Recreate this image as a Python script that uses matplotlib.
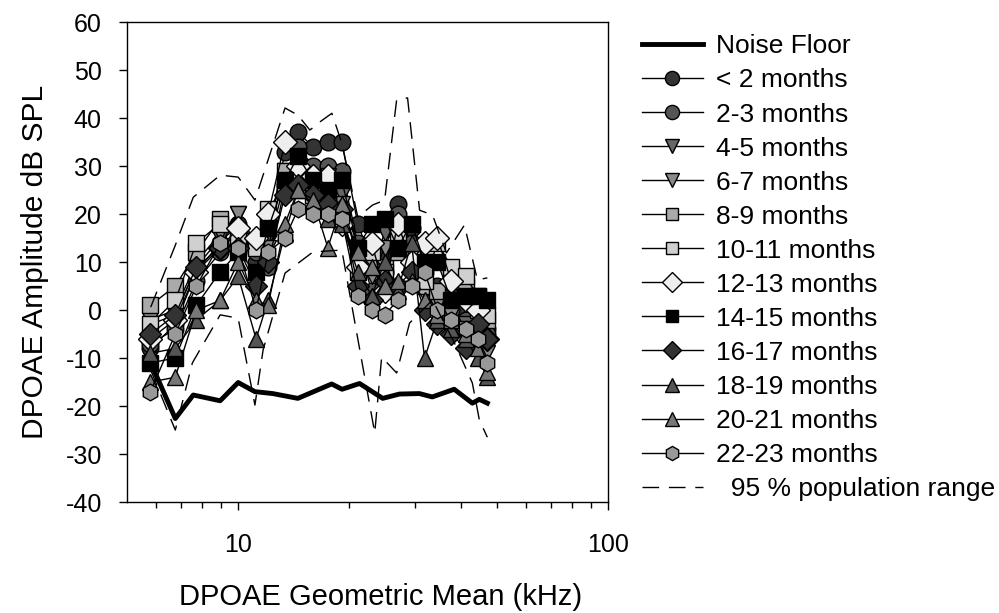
import matplotlib
matplotlib.use('Agg')
import matplotlib.pyplot as plt
from matplotlib.ticker import FixedLocator, NullFormatter

plt.rcParams['font.family'] = ['Liberation Sans', 'DejaVu Sans']
plt.rcParams['axes.unicode_minus'] = False

# geometric mean frequencies (kHz) of the age-group series
freq = [5.79, 6.76, 7.71, 8.94, 10.0, 11.18, 12.05, 13.39, 14.51, 15.93, 17.48, 19.07,
        21.06, 22.97, 24.9, 27.0, 29.44, 31.92, 34.6, 37.7, 41.2, 44.4, 47.2]

labels = ['< 2 months', '2-3 months', '4-5 months', '6-7 months', '8-9 months',
          '10-11 months', '12-13 months', '14-15 months', '16-17 months',
          '18-19 months', '20-21 months', '22-23 months']

amp_lt2 = [-8, -3, 8, 14, 18, 10, 16, 33, 37, 34, 35, 35, 18, 10, 12, 22, 17, 10, 5, 3, 0, -2, -4]
amp_2_3 = [-7, -4, 6, 12, 17, 12, 9, 26, 34, 30, 30, 29, 14, 4, 8, 20, 14, 8, 3, 0, -2, -3, -5]
amp_4_5 = [-3, -1, 9, 15, 20, 13, 15, 29, 30, 27, 28, 24, 13, 9, 16, 14, 10, 6, 2, 0, -3, -6, -8]
amp_6_7 = [-2, 0, 10, 16, 20, 14, 13, 27, 28, 25, 26, 22, 11, 7, 13, 12, 8, 4, 1, -1, -4, -7, -9]
amp_8_9 = [1, 5, 12, 19, 16, 14, 18, 29, 28, 26, 24, 20, 8, 10, 9, 12, 10, 5, 4, 8, 5, 0, -2]
amp_10_11 = [-3, 2, 14, 18, 15, 13, 21, 26, 27, 24, 22, 19, 10, 12, 8, 15, 12, 6, 14, 9, 7, 3, -1]
amp_12_13 = [-6, -2, 8, 13, 17, 15, 20, 35, 30, 28, 28, 18, 9, 14, 4, 18, 10, 14, 15, 6, 2, 0, -6]
amp_14_15 = [-11, -10, 1, 8, 12, 8, 17, 27, 32, 27, 25, 27, 13, 18, 19, 13, 18, 10, 10, 2, 3, 3, 2]
amp_16_17 = [-5, -1, 9, 13, 13, 5, 10, 24, 26, 24, 22, 21, 5, 2, 6, 5, 8, 0, -3, -5, -8, -3, -6]
amp_18_19 = [-9, -8, -2, 2, 7, -6, 2, 16, 25, 22, 19, 18, 8, 3, 10, 4, 14, -10, -2, -4, -6, -10, -14]
amp_20_21 = [-15, -14, 0, 2, 10, 2, 1, 18, 25, 23, 13, 22, 12, 9, 5, 6, 6, 2, -1, -2, -5, -8, -13]
amp_22_23 = [-17, -5, 5, 14, 13, 0, 12, 15, 21, 20, 20, 19, 3, 0, -1, 2, 5, 8, 0, -2, -4, -6, -11]

amps = [amp_lt2, amp_2_3, amp_4_5, amp_6_7, amp_8_9, amp_10_11, amp_12_13,
        amp_14_15, amp_16_17, amp_18_19, amp_20_21, amp_22_23]

# noise floor
nf_freq = [5.8, 6.76, 7.56, 8.94, 10.0, 11.1, 12.4, 14.5, 17.9, 19.1, 21.3, 24.6,
           27.3, 30.9, 33.5, 38.4, 43.0, 44.9, 47.2]
nf_amp = [-11, -22.6, -17.7, -18.9, -15.1, -17.0, -17.4, -18.4, -15.4, -16.5, -15.3,
          -18.4, -17.5, -17.4, -18.1, -16.5, -19.4, -18.6, -19.4]

# 95 % population range
up_freq = [5.8, 6.76, 7.56, 8.94, 10.0, 11.1, 13.39, 14.51, 15.63, 16.64, 17.92, 19.07,
           21.06, 23.12, 24.9, 26.83, 28.72, 30.95, 33.55, 36.59, 40.92, 44.36, 47.2]
up_amp = [0.6, 13.5, 23.5, 28.1, 27.7, 22.9, 42.1, 40.6, 37.5, 39.2, 41.0, 34.8,
          19.4, 21.9, 22.9, 43.8, 44.2, 20.8, 19.8, 11.9, 17.7, 6.3, 6.7]
lo_freq = [5.8, 6.76, 7.52, 8.94, 10.0, 11.1, 11.68, 13.39, 15.93, 19.07, 23.41, 24.44,
           26.83, 29.08, 33.55, 38.94, 42.99, 44.91, 47.2]
lo_amp = [-12.5, -25, -11, -1, -1.7, -19.8, -8.3, 7.7, 12.1, 12.5, -25.6, -9.8,
          -13.1, -2.7, 2.1, -7.7, -15.2, -22.9, -26.5]

markers = ['o', 'o', 'v', 'v', 's', 's', 'D', 's', 'D', '^', '^', 'h']
fills = ['#333333', '#555555', '#666666', '#8a8a8a', '#aaaaaa', '#d0d0d0',
         '#eeeeee', '#000000', '#333333', '#555555', '#777777', '#999999']
msizes = [12, 12, 12, 12, 11, 11, 12, 11, 11, 12, 12, 12]

fig = plt.figure(figsize=(9.99, 6.13), dpi=100)
ax = fig.add_axes([0.127, 0.181, 0.4815, 0.783])

ax.plot(nf_freq, nf_amp, color='black', lw=3.5, label='Noise Floor', zorder=3)
for y, lab, m, fc, ms in zip(amps, labels, markers, fills, msizes):
    ax.plot(freq, y, color='black', lw=1, marker=m, markersize=ms,
            markerfacecolor=fc, markeredgecolor='black', markeredgewidth=1,
            label=lab, zorder=4)
ax.plot(up_freq, up_amp, color='black', lw=1, dashes=(12, 7),
        label='  95 % population range', zorder=5)
ax.plot(lo_freq, lo_amp, color='black', lw=1, dashes=(12, 7), zorder=5)

ax.set_xscale('log')
ax.set_xlim(5, 100)
ax.set_ylim(-40, 60)
ax.set_yticks(range(-40, 61, 10))
ax.xaxis.set_major_locator(FixedLocator([10, 100]))
ax.set_xticklabels(['10', '100'])
ax.xaxis.set_minor_locator(FixedLocator([6, 7, 8, 9, 20, 30, 40, 50, 60, 70, 80, 90]))
ax.xaxis.set_minor_formatter(NullFormatter())
ax.tick_params(axis='both', which='major', direction='out', length=6, width=1,
               labelsize=18)
ax.tick_params(axis='x', which='major', pad=16)
ax.tick_params(axis='y', which='major', pad=12)
ax.tick_params(axis='x', which='minor', direction='out', length=4, width=1)
for s in ax.spines.values():
    s.set_linewidth(1)

ax.set_xlabel('DPOAE Geometric Mean (kHz)', fontsize=21)
ax.xaxis.set_label_coords(0.528, -0.168)
ax.set_ylabel('DPOAE Amplitude dB SPL', fontsize=21.5, labelpad=12)

fig.legend(loc='upper left', bbox_to_anchor=(0.632, 0.961), frameon=False,
           fontsize=19, handlelength=2.3, handletextpad=0.5, labelspacing=0.38,
           borderaxespad=0, markerscale=0.85)

fig.savefig('out.png', dpi=100)
